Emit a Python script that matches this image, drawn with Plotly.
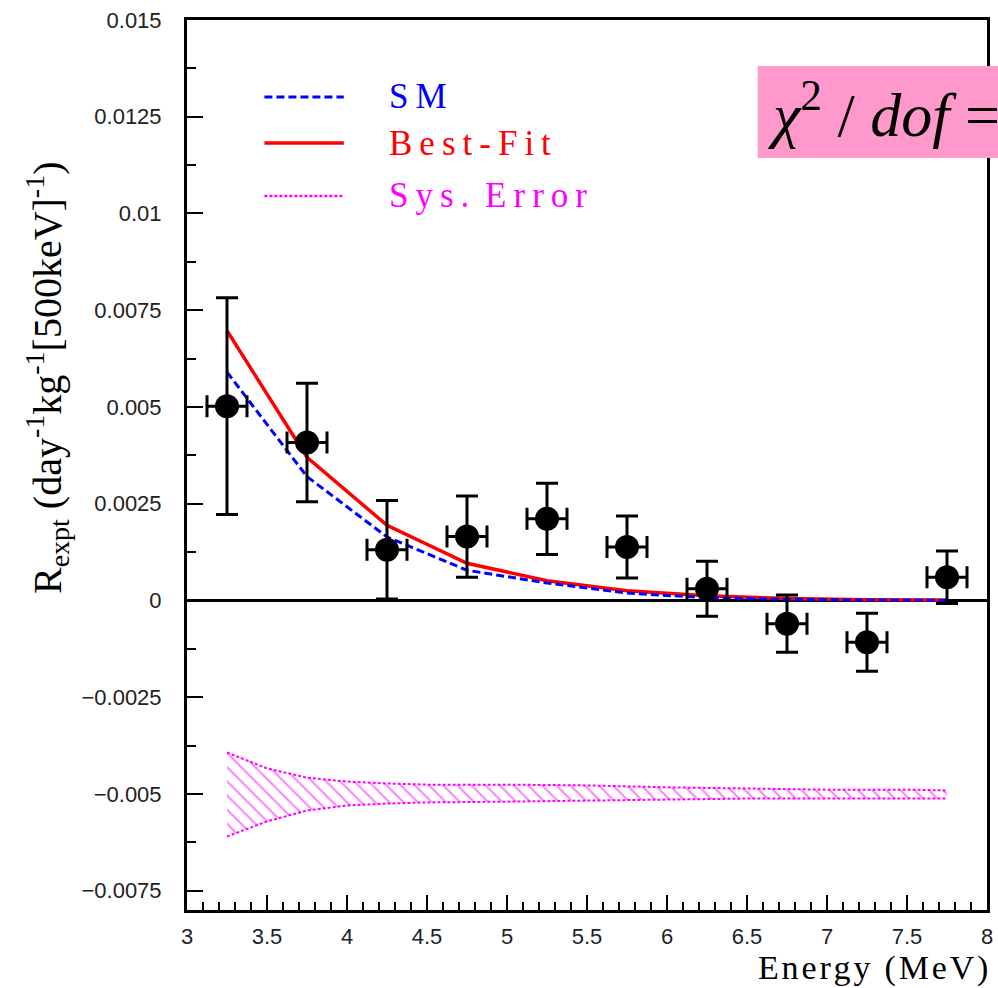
import plotly.graph_objects as go

# ---------------- data ----------------
energy = [3.25, 3.75, 4.25, 4.75, 5.25, 5.75, 6.25, 6.75, 7.25, 7.75]
rate = [0.00502, 0.00408, 0.00131, 0.00165, 0.00211, 0.00138, 0.00030, -0.00060, -0.00108, 0.00060]
rate_err = [0.00280, 0.00153, 0.00127, 0.00105, 0.00092, 0.00080, 0.00071, 0.00074, 0.00075, 0.00068]
bin_half = [0.125] * 10

best_fit = [0.00697, 0.00370, 0.00194, 0.00096, 0.00051, 0.00025, 0.00012, 0.00005, 0.00002, 0.00001]
sm = [0.00590, 0.00320, 0.00164, 0.00078, 0.00045, 0.00019, 0.00007, 0.00003, 0.00001, 0.0]

sys_x = [3.25, 3.5, 3.75, 4.0, 4.25, 4.5, 5.0, 5.5, 6.0, 6.5, 7.0, 7.5, 7.75]
sys_upper = [-0.00393, -0.00434, -0.00458, -0.00468, -0.00473, -0.00476, -0.00476,
             -0.00478, -0.00483, -0.00486, -0.00489, -0.00489, -0.00491]
sys_lower = [-0.00610, -0.00571, -0.00543, -0.00530, -0.00525, -0.00522, -0.00520,
             -0.00517, -0.00514, -0.00512, -0.00512, -0.00512, -0.00512]

y_ticks = [-0.0075, -0.005, -0.0025, 0, 0.0025, 0.005, 0.0075, 0.01, 0.0125, 0.015]
y_tick_text = ["\u22120.0075", "\u22120.005", "\u22120.0025", "0", "0.0025", "0.005",
               "0.0075", "0.01", "0.0125", "0.015"]
x_ticks = [3, 3.5, 4, 4.5, 5, 5.5, 6, 6.5, 7, 7.5, 8]
x_tick_text = ["3", "3.5", "4", "4.5", "5", "5.5", "6", "6.5", "7", "7.5", "8"]

legend_labels = ["S\u2009M", "B\u2009e\u2009s\u2009t\u2009-\u2009F\u2009i\u2009t",
                 "S\u2009y\u2009s\u2009.\u2009 E\u2009r\u2009r\u2009o\u2009r"]
legend_colors = ["#0000ff", "#ff0000", "#ff00ff"]
legend_dash = ["8px,4px", "solid", "3px,2px"]
legend_width = [3, 3.5, 2.5]

x_title = "\u200a".join("Energy (MeV)")
y_title = "R<sub>expt</sub> (day<sup>-1</sup>kg<sup>-1</sup>[500keV]<sup>-1</sup>)"
chi_text = "<i>\u03c7</i><sup>2</sup> / <i>dof</i> ="

SERIF = "Liberation Serif, Times New Roman, serif"
SANS = "Liberation Sans, Arial, sans-serif"

fig = go.Figure()

# systematic error band (hatched)
fig.add_trace(go.Scatter(
    x=sys_x, y=sys_lower, mode="lines",
    line=dict(color="#ff00ff", width=2, dash="3px,2px"),
    showlegend=False, hoverinfo="skip"))
fig.add_trace(go.Scatter(
    x=sys_x, y=sys_upper, mode="lines", fill="tonexty",
    fillcolor="rgba(0,0,0,0)",
    fillpattern=dict(shape="\\", fgcolor="#ff00ff", bgcolor="rgba(0,0,0,0)",
                     size=10, solidity=0.2),
    line=dict(color="#ff00ff", width=2, dash="3px,2px"),
    showlegend=False, hoverinfo="skip"))

# curves
fig.add_trace(go.Scatter(x=energy, y=best_fit, mode="lines",
                         line=dict(color="#ff0000", width=3.5),
                         showlegend=False))
fig.add_trace(go.Scatter(x=energy, y=sm, mode="lines",
                         line=dict(color="#0000ff", width=3, dash="8px,4px"),
                         showlegend=False))

# data points
fig.add_trace(go.Scatter(
    x=energy, y=rate, mode="markers",
    marker=dict(color="black", size=24, symbol="circle"),
    error_y=dict(type="data", array=rate_err, color="black", thickness=3, width=11),
    error_x=dict(type="data", array=bin_half, color="black", thickness=3, width=11),
    showlegend=False))

# ---------- manual legend ----------
leg_y_px = [97, 143, 196]
H_PLOT = 890.0
for lab, col, dsh, lw, ypx in zip(legend_labels, legend_colors, legend_dash, legend_width, leg_y_px):
    yp = (910 - ypx) / H_PLOT
    fig.add_shape(type="line", xref="paper", yref="paper",
                  x0=(265 - 187) / 806, x1=(345 - 187) / 806, y0=yp, y1=yp,
                  line=dict(color=col, width=lw, dash=dsh))
    fig.add_annotation(xref="paper", yref="paper", x=(388 - 187) / 806, y=yp,
                       xanchor="left", yanchor="middle", showarrow=False,
                       text=lab, font=dict(family=SERIF, size=35, color=col))

# chi2 box
fig.add_shape(type="rect", xref="paper", yref="paper",
              x0=(762 - 187) / 806, x1=1.05, y0=(910 - 158) / H_PLOT, y1=(910 - 66) / H_PLOT,
              fillcolor="#ff99cc", line=dict(width=0), layer="above")
fig.add_annotation(xref="paper", yref="paper", x=(770 - 187) / 806, y=(910 - 110) / H_PLOT,
                   xanchor="left", yanchor="middle", showarrow=False,
                   text=chi_text,
                   font=dict(family=SERIF, size=62, color="black"))

# axis titles
fig.add_annotation(xref="paper", yref="paper", x=(46 - 187) / 806, y=(910 - 378) / H_PLOT,
                   xanchor="center", yanchor="middle", showarrow=False, textangle=-90,
                   text=y_title,
                   font=dict(family=SERIF, size=40, color="black"))
fig.add_annotation(xref="paper", yref="paper", x=(996 - 187) / 806, y=(910 - 968) / H_PLOT,
                   xanchor="right", yanchor="middle", showarrow=False,
                   text=x_title,
                   font=dict(family=SERIF, size=34, color="black"))

fig.update_layout(
    width=998, height=988,
    margin=dict(l=187, r=5, t=20, b=78),
    paper_bgcolor="white", plot_bgcolor="white",
    showlegend=False,
    xaxis=dict(range=[3, 8], tickvals=x_ticks, ticktext=x_tick_text,
               ticks="inside", ticklen=15, tickwidth=2, tickcolor="black",
               minor=dict(dtick=0.1, tick0=3, ticks="inside", ticklen=8, tickwidth=2, tickcolor="black"),
               showline=True, linecolor="black", linewidth=3, mirror=True,
               showgrid=False, zeroline=False,
               tickfont=dict(family=SANS, size=22, color="#222"),
               ticklabelstandoff=5),
    yaxis=dict(range=[-0.008, 0.015], tickvals=y_ticks, ticktext=y_tick_text,
               ticks="inside", ticklen=16, tickwidth=2, tickcolor="black",
               minor=dict(dtick=0.00125, tick0=0, ticks="inside", ticklen=9, tickwidth=2, tickcolor="black"),
               showline=True, linecolor="black", linewidth=3, mirror=True,
               showgrid=False, zeroline=True, zerolinecolor="black", zerolinewidth=3,
               tickfont=dict(family=SANS, size=22, color="#222"),
               ticklabelstandoff=18),
)

fig.write_html("out.html")
